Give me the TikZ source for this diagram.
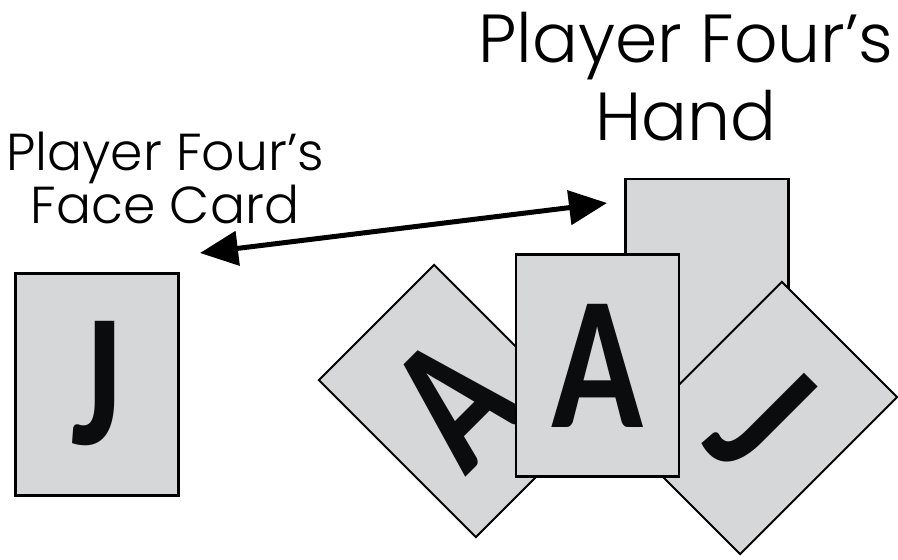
\documentclass[tikz,border=0pt]{standalone}
\usepackage{fontspec}
\setmainfont{Poppins Light}
\newfontfamily\cardfont{Carlito}
\usetikzlibrary{arrows.meta}
\definecolor{cardfill}{RGB}{214,215,217}
\definecolor{ink}{RGB}{10,12,13}
\begin{document}
\begin{tikzpicture}[x=1pt,y=-1pt,
  card/.style={draw=black, line width=2.5pt, fill=cardfill,
    minimum width=163pt, minimum height=222pt, inner sep=0pt, text=ink,
    font=\cardfont\bfseries\fontsize{190}{190}\selectfont},
  caption/.style={align=center, inner sep=0pt, text=black},
  link/.style={line width=5pt,
    {Triangle[length=38pt,width=34pt]}-{Triangle[length=38pt,width=34pt]}}]
\useasboundingbox (0,0) rectangle (898,560);

% the hand: a card lying behind, two fanned cards and one on top
\node[card] (backcard) at (707,290) {};
\node[card, rotate=45, line width=2pt] (fanleft) at (455,401) {\scalebox{0.8}[1]{A}};
\node[card, rotate=-45, line width=2pt] (fanright) at (761,418) {\scalebox{0.8}[1]{J}};
\node[card] (fanmiddle) at (597.5,365.5) {\scalebox{0.8}[1]{A}};

% the single face card
\node[card, line width=3pt] (facecard) at (96.5,384) {\scalebox{0.8}[1]{J}};

% captions
\node[caption, font=\fontsize{68}{78}\selectfont, anchor=north] (handlabel) at (686,12) {Player Four’s\\Hand};
\node[caption, font=\fontsize{52}{50}\selectfont, anchor=north] (facelabel) at (165,132) {Player Four’s\\Face Card};

% double-headed link between the two
\coordinate (faceend) at (200,253);
\coordinate (handend) at (607,203);
\draw[link] (faceend) -- (handend);
\end{tikzpicture}
\end{document}
